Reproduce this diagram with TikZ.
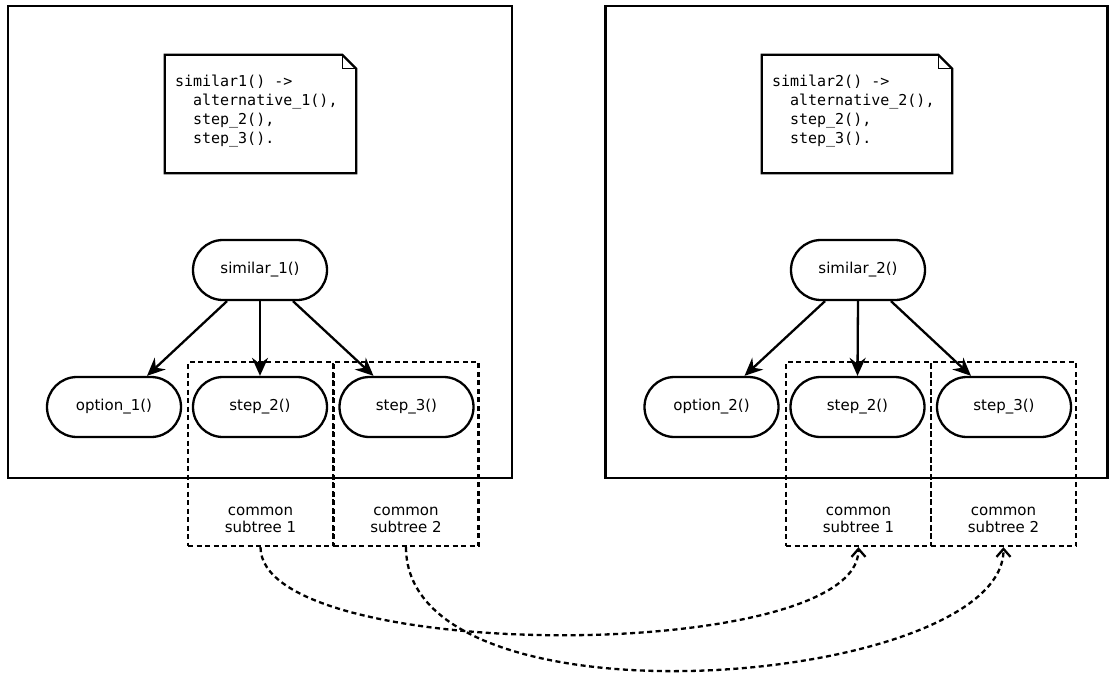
\documentclass[tikz,border=0pt]{standalone}
\usepackage{fontspec}
\setmainfont{DejaVu Sans}
\newfontfamily\monof{DejaVu Sans Mono}
\usetikzlibrary{arrows.meta,calc}
\begin{document}
\begin{tikzpicture}[x=1pt,y=-1pt,
  frame/.style={draw, line width=2.3pt, inner sep=0pt},
  fn/.style={draw, line width=2.3pt, rounded corners=30pt, minimum width=134pt, minimum height=60pt, inner sep=0pt, font=\fontsize{15}{17}\selectfont},
  subtree/.style={draw, line width=2.3pt, dash pattern=on 5pt off 3.5pt, minimum width=145pt, minimum height=184pt, inner sep=0pt},
  lbl/.style={align=center, font=\fontsize{15}{17}\selectfont, inner sep=0pt, anchor=base},
  notebox/.style={minimum width=191pt, minimum height=118pt, inner sep=0pt},
  code/.style={align=left, font=\monof\fontsize{15}{19}\selectfont, inner sep=0pt, anchor=base west},
  call/.style={line width=2.3pt, -{Stealth[length=18pt,width=16pt,inset=6pt]}},
  shared/.style={line width=2.3pt, dash pattern=on 5pt off 3.5pt, -{Straight Barb[length=8pt,width=14pt]}},
  fold/.style={line width=1pt}
]
\useasboundingbox (0,0) rectangle (1109,673);

% outer frames
\node[frame, minimum width=504pt, minimum height=472pt] (left) at (260,242) {};
\node[frame, minimum width=502pt, minimum height=472pt] (right) at (856.5,242) {};

% notes
\node[notebox] (n1) at (260.5,114) {};
\node[notebox, minimum width=190pt] (n2) at (857,114) {};
\foreach \n in {n1,n2}{
  \draw[line width=2.3pt] (\n.north west) -- ($(\n.north east)+(-14,0)$) -- ($(\n.north east)+(0,14)$) -- (\n.south east) -- (\n.south west) -- cycle;
  \draw[fold] ($(\n.north east)+(-14,0)$) -- ++(0,14) -- ++(14,0);
}
\node[code] (t1) at ($(n1.north west)+(10,89)$) {similar1() ->\\\phantom{xx}alternative\_1(),\\\phantom{xx}step\_2(),\\\phantom{xx}step\_3().};
\node[code] (t2) at ($(n2.north west)+(10,89)$) {similar2() ->\\\phantom{xx}alternative\_2(),\\\phantom{xx}step\_2(),\\\phantom{xx}step\_3().};

% subtree boxes
\node[subtree] (cs1a) at (260.5,454) {};
\node[subtree] (cs2a) at (406,454) {};
\node[subtree] (cs1b) at (858.5,454) {};
\node[subtree] (cs2b) at (1003.5,454) {};
\node[lbl] (l1a) at (260.5,532) {common\\subtree 1};
\node[lbl] (l2a) at (406,532) {common\\subtree 2};
\node[lbl] (l1b) at (858.5,532) {common\\subtree 1};
\node[lbl] (l2b) at (1003.5,532) {common\\subtree 2};

% function nodes
\node[fn] (sim1) at (260,270) {similar\_1()};
\node[fn] (opt1) at (114,407) {option\_1()};
\node[fn] (st2a) at (260,407) {step\_2()};
\node[fn] (st3a) at (406.5,407) {step\_3()};
\node[fn] (sim2) at (858,270) {similar\_2()};
\node[fn] (opt2) at (711.5,407) {option\_2()};
\node[fn] (st2b) at (857.5,407) {step\_2()};
\node[fn] (st3b) at (1004,407) {step\_3()};

\foreach \s/\o/\a/\b in {sim1/opt1/st2a/st3a, sim2/opt2/st2b/st3b}{
  \draw[call] ($(\s.south)+(-33,0)$) -- ($(\o.north)+(33,0)$);
  \draw[call] (\s.south) -- (\a.north);
  \draw[call] ($(\s.south)+(33,0)$) -- ($(\b.north)+(-33,0)$);
}

% shared subtree links
\draw[shared] (cs1a.south) .. controls ($(cs1a.south)+(0,117)$) and ($(cs1b.south)+(0,117)$) .. (cs1b.south);
\draw[shared] (cs2a.south) .. controls ($(cs2a.south)+(0,189)$) and ($(cs2b.south)+(0,139)$) .. (cs2b.south);
\end{tikzpicture}
\end{document}
